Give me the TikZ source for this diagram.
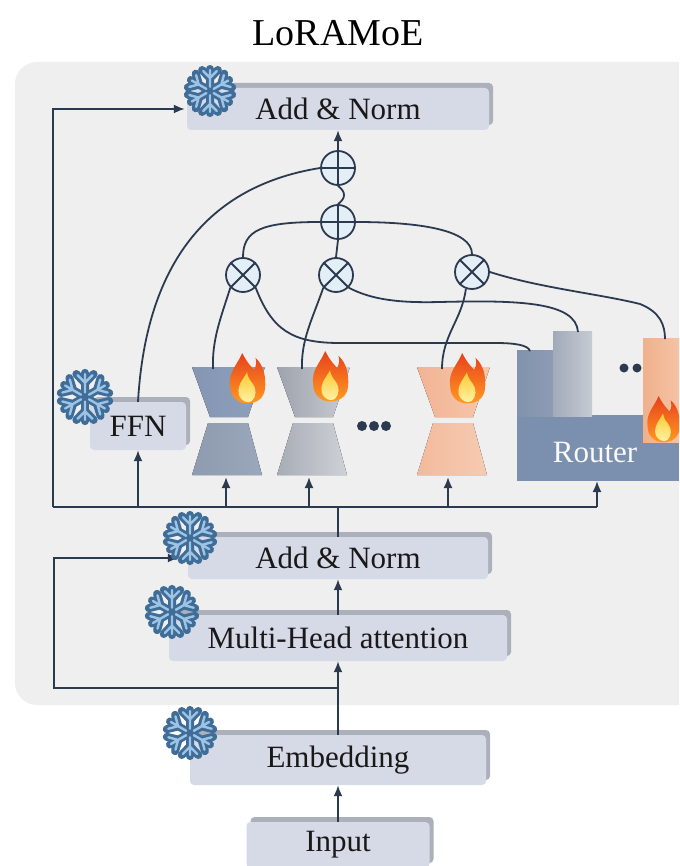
\documentclass[tikz,border=0pt]{standalone}
\usepackage{fontspec}
\setmainfont{Liberation Serif}
\usetikzlibrary{arrows.meta,shadows}

\definecolor{panel}{HTML}{EFEFEF}
\definecolor{boxfill}{HTML}{D6DAE6}
\definecolor{boxshadow}{HTML}{ABB0BB}
\definecolor{wirec}{HTML}{2C3A4F}
\definecolor{opfill}{HTML}{E4EEF6}
\definecolor{flakedark}{HTML}{3F6D98}
\definecolor{flakelight}{HTML}{9DC4E4}
\definecolor{flameRed}{HTML}{E8401C}
\definecolor{flameOrange}{HTML}{FF9A22}
\definecolor{flameYellow}{HTML}{FFC933}
\definecolor{flamePale}{HTML}{FFF4A8}
\definecolor{routerdark}{HTML}{7B8FAE}
% expert colours: upper left/right, lower left/right
\definecolor{eAul}{HTML}{8496B4}\definecolor{eAur}{HTML}{8FA0BB}
\definecolor{eAll}{HTML}{8E9BB0}\definecolor{eAlr}{HTML}{9BA7BA}
\definecolor{eBul}{HTML}{9EA3AD}\definecolor{eBur}{HTML}{C9CCD3}
\definecolor{eBll}{HTML}{A8ACB5}\definecolor{eBlr}{HTML}{CED1D7}
\definecolor{eCul}{HTML}{F2B394}\definecolor{eCur}{HTML}{F6C7AC}
\definecolor{eCll}{HTML}{F3BA9C}\definecolor{eClr}{HTML}{F6CBB2}
% router columns
\definecolor{rAl}{HTML}{8192AC}\definecolor{rAr}{HTML}{8E9CB3}
\definecolor{rBl}{HTML}{A2AAB9}\definecolor{rBr}{HTML}{C6CBD3}
\definecolor{rCl}{HTML}{F0B18C}\definecolor{rCr}{HTML}{F5C3A5}

\tikzset{
  wire/.style={draw=wirec, line width=1.8pt},
  arr/.style={wire, -{Latex[length=11pt,width=9pt]}},
  op/.style={circle, draw=wirec, line width=1.8pt, fill=opfill,
    minimum size=34pt, inner sep=0pt},
  layer/.style={fill=boxfill, rounded corners=4pt, inner sep=0pt,
    font=\fontsize{31}{36}\selectfont, text=black!90,
    drop shadow={shadow xshift=4pt, shadow yshift=5pt, fill=boxshadow, opacity=1}},
  snowflake/.pic={
    \fill[flakedark] (0,0) circle (6);
    \foreach \a in {0,60,...,300}{
      \draw[flakedark, line width=8pt, line cap=round, line join=round, rotate=\a]
        (0,0) -- (0,-21) (-7.5,-20) -- (0,-12) -- (7.5,-20);
    }
    \foreach \a in {0,60,...,300}{
      \draw[flakelight, line width=2.4pt, line cap=round, line join=round, rotate=\a]
        (0,-4) -- (0,-20) (-6.5,-19) -- (0,-12.5) -- (6.5,-19);
    }
  },
  flame/.pic={
    \shade[top color=flameRed, bottom color=flameOrange]
      (-14,-12) .. controls (-16,-24) and (-8,-30) .. (-4,-40)
      .. controls (0,-32) and (4,-28) .. (6,-26)
      .. controls (8,-30) and (8,-33) .. (7,-36)
      .. controls (14,-30) and (16,-20) .. (15,-10)
      .. controls (14,-2) and (8,2) .. (0,2)
      .. controls (-8,2) and (-14,-4) .. (-14,-12) -- cycle;
    \shade[top color=flameYellow, bottom color=flamePale]
      (-7,-6) .. controls (-8,-14) and (-3,-18) .. (0,-24)
      .. controls (1,-18) and (4,-16) .. (5,-14)
      .. controls (8,-10) and (8,-4) .. (4,0)
      .. controls (1,2) and (-5,1) .. (-7,-6) -- cycle;
  }
}

% one LoRA expert: two opposed trapezoids centred on x = #1
\newcommand\loraexpert[5]{%
  \fill[left color=#2, right color=#3]
    (#1-36,367) -- (#1+37,367) -- (#1+20,417) -- (#1-18,417) -- cycle;
  \fill[left color=#4, right color=#5]
    (#1-20,423) -- (#1+20,423) -- (#1+34,475) -- (#1-36,475) -- cycle;
}

\begin{document}
\begin{tikzpicture}[x=1pt,y=-1pt]
\useasboundingbox (0,0) rectangle (679,866);
\clip (0,0) rectangle (679,866);
\fill[white] (0,0) rectangle (679,866);

% title and decoder panel
\node[font=\fontsize{38}{44}\selectfont] (title) at (338,33) {LoRAMoE};
\fill[panel, rounded corners=22pt] (15,62) rectangle (710,705);

% layer boxes
\node[layer, minimum width=302pt, minimum height=42pt] (topan) at (338,109) {Add \& Norm};
\node[layer, minimum width=96pt, minimum height=48pt] (ffn) at (138,426) {FFN};
\node[layer, minimum width=300pt, minimum height=42pt] (midan) at (338,558) {Add \& Norm};
\node[layer, minimum width=338pt, minimum height=46pt] (mha) at (338,638) {Multi-Head attention};
\node[layer, minimum width=296pt, minimum height=50pt] (emb) at (338,760) {Embedding};
\node[layer, minimum width=183pt, minimum height=46pt] (input) at (338,845) {Input};

% LoRA experts
\loraexpert{228}{eAul}{eAur}{eAll}{eAlr}
\loraexpert{313}{eBul}{eBur}{eBll}{eBlr}
\loraexpert{453}{eCul}{eCur}{eCll}{eClr}
\coordinate (e1t) at (213,369);
\coordinate (e2t) at (302,369);
\coordinate (e3t) at (442,369);
\coordinate (e1b) at (226,477);
\coordinate (e2b) at (309,477);
\coordinate (e3b) at (448,477);
\foreach \px in {362,374,386} \fill[wirec] (\px,426) circle (5);

% router
\fill[routerdark] (517,415) rectangle (679,481);
\fill[left color=rAl, right color=rAr] (517,350) rectangle (553,416);
\fill[left color=rBl, right color=rBr] (553,331) rectangle (592,416);
\fill[left color=rCl, right color=rCr] (643,338) rectangle (679,442);
\fill[wirec] (624,368) circle (4.5) (637,368) circle (4.5);
\node[font=\fontsize{31}{36}\selectfont, text=white!95!gray] (router) at (595,452) {Router};
\coordinate (rc1) at (530,351);
\coordinate (rc2) at (578,332);
\coordinate (rc3) at (665,339);
\coordinate (rb) at (597,481);

% summation and gating operators
\node[op] (s1) at (338,168) {};
\node[op] (s2) at (338,222) {};
\node[op] (m1) at (243,275) {};
\node[op] (m2) at (336,275) {};
\node[op] (m3) at (472,272) {};
\foreach \n in {s1,s2} \draw[wire] (\n.north) -- (\n.south) (\n.west) -- (\n.east);
\foreach \n in {m1,m2,m3} \draw[wire] (\n.north west) -- (\n.south east) (\n.north east) -- (\n.south west);

% bus under the FFN block and residual paths
\coordinate (lbus) at (53,507);
\coordinate (rbus) at (597,507);
\coordinate (lskip) at (54,688);
\draw[wire] (lbus) -- (rbus);
\draw[arr, shorten >=2pt] (lbus) |- (topan.west);
\draw[wire] (midan.north) -- (midan.north |- lbus);
\draw[arr] (ffn.south |- lbus) -- (ffn.south);
\draw[arr] (e1b |- lbus) -- (e1b);
\draw[arr] (e2b |- lbus) -- (e2b);
\draw[arr] (e3b |- lbus) -- (e3b);
\draw[arr] (rbus) -- (rb);
\draw[arr] (mha.north) -- (midan.south);
\draw[arr] (emb.north) -- (mha.south);
\draw[arr, shorten >=9pt] (emb.north |- lskip) -- (lskip) |- (midan.west);
\draw[arr] (input.north) -- (emb.south);

% mixture wiring
\draw[arr] (s1.north) -- (topan.south);
\draw[wire] (s1.south) .. controls (346,192) and (346,198) .. (s2.north);
\draw[wire] (ffn.north) .. controls (145,280) and (195,188) .. (s1.west);
\draw[wire] (s2.west) .. controls (262,222) and (243,230) .. (m1.north);
\draw[wire] (s2.east) .. controls (420,222) and (472,230) .. (m3.north);
\draw[wire] (s2.south) -- (m2.north);
\draw[wire] (m1.south west) .. controls (220,320) and (212,340) .. (e1t);
\draw[wire] (m2.south west) .. controls (312,320) and (301,340) .. (e2t);
\draw[wire] (m3.-110) .. controls (462,320) and (442,335) .. (e3t);
\draw[wire] (m1.south east) .. controls (272,330) and (292,343) .. (340,343)
  -- (495,343) .. controls (515,343) and (528,345) .. (rc1);
\draw[wire] (m2.south east) .. controls (372,300) and (400,303) .. (440,302)
  .. controls (520,300) and (576,302) .. (rc2);
\draw[wire] (m3.east) .. controls (540,288) and (600,294) .. (640,304)
  .. controls (660,312) and (665,325) .. (rc3);

% trainable (flame) and frozen (snowflake) markers
\pic[scale=1.2] at (247,401) {flame};
\pic[scale=1.2] at (330,399) {flame};
\pic[scale=1.2] at (467,401) {flame};
\pic[scale=1.1] at (663,440) {flame};
\pic[scale=1.05] at (210,91) {snowflake};
\pic[scale=1.15] at (85,397) {snowflake};
\pic[scale=1.1] at (190,538) {snowflake};
\pic[scale=1.1] at (172,612) {snowflake};
\pic[scale=1.1] at (190,733) {snowflake};
\end{tikzpicture}
\end{document}
